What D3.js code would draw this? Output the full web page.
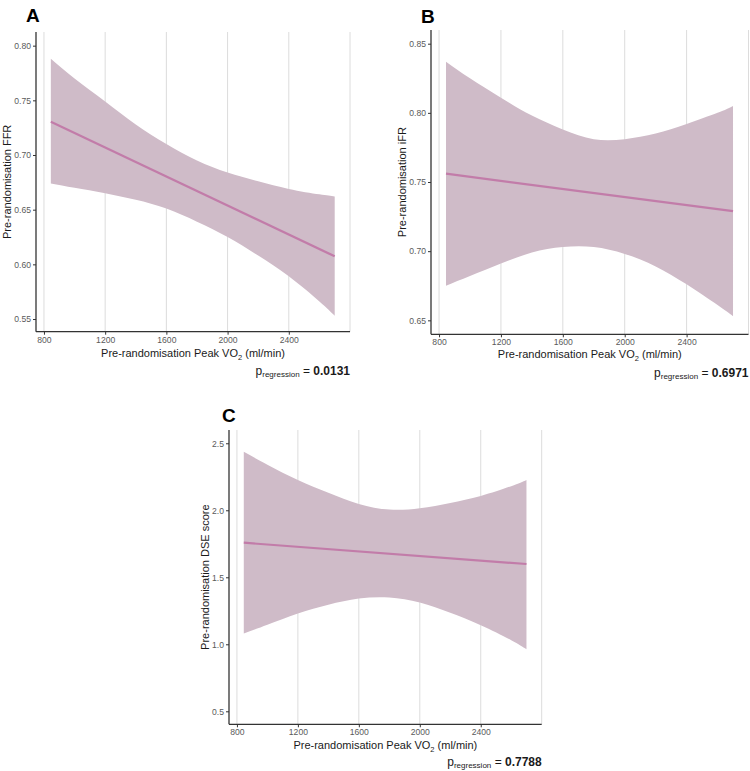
<!DOCTYPE html>
<html>
<head>
<meta charset="utf-8">
<script src="https://cdn.jsdelivr.net/npm/d3@7"></script>
<style>
  html, body { margin: 0; padding: 0; background: #fff; }
  svg { display: block; font-family: "Liberation Sans", Arial, sans-serif; }
</style>
</head>
<body>
<svg id="chart" width="750" height="771"></svg>
<script>
// ---------- data ----------
const peakVO2 = [845, 1000, 1200, 1400, 1600, 1800, 2000, 2200, 2400, 2600, 2700];
const fitVO2 = [845, 2700];
const xTicks = [800, 1200, 1600, 2000, 2400, 2800];

const ffrFit   = [0.7305, 0.6073];
const ffrUpper = [0.788, 0.770, 0.749, 0.728, 0.710, 0.695, 0.684, 0.676, 0.669, 0.664, 0.662];
const ffrLower = [0.674, 0.670, 0.665, 0.659, 0.651, 0.639, 0.625, 0.608, 0.589, 0.566, 0.553];
const ffrTicks = [0.55, 0.60, 0.65, 0.70, 0.75, 0.80];

const ifrFit   = [0.756, 0.729];
const ifrUpper = [0.837, 0.825, 0.811, 0.798, 0.788, 0.781, 0.781, 0.785, 0.792, 0.800, 0.805];
const ifrLower = [0.675, 0.682, 0.691, 0.699, 0.703, 0.703, 0.698, 0.689, 0.676, 0.661, 0.653];
const ifrTicks = [0.65, 0.70, 0.75, 0.80, 0.85];

const dseFit   = [1.758, 1.599];
const dseUpper = [2.437, 2.340, 2.226, 2.130, 2.047, 2.005, 2.015, 2.055, 2.107, 2.180, 2.226];
const dseLower = [1.080, 1.145, 1.229, 1.295, 1.341, 1.349, 1.311, 1.235, 1.142, 1.030, 0.963];
const dseTicks = [0.5, 1.0, 1.5, 2.0, 2.5];

const panels = [
  { letter: "A", yTitle: "Pre-randomisation FFR", p: "0.0131",
    fit: ffrFit, upper: ffrUpper, lower: ffrLower, ticks: ffrTicks, fmt: ".2f",
    yDomain: [0.5384, 0.8125],
    box: { left: 36, right: 350, top: 32, bottom: 331.7 },
    letterPos: [26, 22], yTitleX: 11, xTitleY: 357, pY: 375 },
  { letter: "B", yTitle: "Pre-randomisation iFR", p: "0.6971",
    fit: ifrFit, upper: ifrUpper, lower: ifrLower, ticks: ifrTicks, fmt: ".2f",
    yDomain: [0.6399, 0.8599],
    box: { left: 431, right: 748.5, top: 30, bottom: 334.3 },
    letterPos: [421, 23], yTitleX: 406, xTitleY: 358, pY: 377 },
  { letter: "C", yTitle: "Pre-randomisation DSE score", p: "0.7788",
    fit: dseFit, upper: dseUpper, lower: dseLower, ticks: dseTicks, fmt: ".1f",
    yDomain: [0.403, 2.599],
    box: { left: 229, right: 541.7, top: 430, bottom: 724.3 },
    letterPos: [222, 422], yTitleX: 209, xTitleY: 749, pY: 766 }
];

const xDomain = [748, 2800];
const svg = d3.select("#chart");

const bandColor = "#cfbbc8";
const lineColor = "#c27ca9";

panels.forEach(pn => {
  const b = pn.box;
  const x = d3.scaleLinear().domain(xDomain).range([b.left, b.right]);
  const y = d3.scaleLinear().domain(pn.yDomain).range([b.bottom, b.top]);
  const g = svg.append("g");

  // vertical grid lines
  g.selectAll("line.grid").data(xTicks).join("line")
    .attr("class", "grid")
    .attr("x1", d => x(d)).attr("x2", d => x(d))
    .attr("y1", b.top).attr("y2", b.bottom)
    .attr("stroke", "#dcdcdc").attr("stroke-width", 1);

  const rows = peakVO2.map((v, i) => ({ v, lo: pn.lower[i], hi: pn.upper[i] }));

  const area = d3.area()
    .x(d => x(d.v)).y0(d => y(d.lo)).y1(d => y(d.hi))
    .curve(d3.curveNatural);
  g.append("path").datum(rows).attr("d", area).attr("fill", bandColor);

  const fitRows = fitVO2.map((v, i) => ({ v, fit: pn.fit[i] }));
  const line = d3.line().x(d => x(d.v)).y(d => y(d.fit));
  g.append("path").datum(fitRows).attr("d", line)
    .attr("fill", "none").attr("stroke", lineColor).attr("stroke-width", 2.2);

  // axes
  const xAxis = d3.axisBottom(x).tickValues(xTicks.slice(0, 5)).tickSize(3).tickPadding(2).tickFormat(d3.format("d"));
  const gx = g.append("g").attr("transform", `translate(0,${b.bottom})`).call(xAxis);
  const yAxis = d3.axisLeft(y).tickValues(pn.ticks).tickSize(3).tickPadding(2).tickFormat(d3.format(pn.fmt));
  const gy = g.append("g").attr("transform", `translate(${b.left},0)`).call(yAxis);

  [gx, gy].forEach(ax => {
    ax.select(".domain").attr("stroke", "#333").attr("stroke-width", 1.3);
    ax.selectAll(".tick line").attr("stroke", "#333");
    ax.selectAll(".tick text").attr("fill", "#5a5a5a").style("font-size", "8.6px")
      .style("font-family", '"Liberation Sans", Arial, sans-serif');
  });
  gx.select(".domain").attr("d", `M${b.left},0H${b.right}`);
  gy.select(".domain").attr("d", `M0,${b.bottom}V${b.top}`);

  // panel letter
  g.append("text").attr("x", pn.letterPos[0]).attr("y", pn.letterPos[1])
    .attr("font-size", 19).attr("font-weight", "bold").attr("fill", "#000").text(pn.letter);

  // y title
  g.append("text")
    .attr("transform", `translate(${pn.yTitleX},${(b.top + b.bottom) / 2}) rotate(-90)`)
    .attr("text-anchor", "middle").attr("font-size", 11).attr("fill", "#1a1a1a")
    .text(pn.yTitle);

  // x title with subscript
  const xt = g.append("text").attr("x", (b.left + b.right) / 2).attr("y", pn.xTitleY)
    .attr("text-anchor", "middle").attr("font-size", 11).attr("fill", "#1a1a1a");
  xt.append("tspan").text("Pre-randomisation Peak VO");
  xt.append("tspan").attr("font-size", 7.5).attr("dy", 3).text("2");
  xt.append("tspan").attr("dy", -3).text(" (ml/min)");

  // p-value
  const pt = g.append("text").attr("x", b.right).attr("y", pn.pY)
    .attr("text-anchor", "end").attr("font-size", 12).attr("fill", "#1a1a1a");
  pt.append("tspan").text("p");
  pt.append("tspan").attr("font-size", 8).attr("dy", 2).text("regression");
  pt.append("tspan").attr("dy", -2).text(" = ");
  pt.append("tspan").attr("font-weight", "bold").text(pn.p);
});
</script>
</body>
</html>
